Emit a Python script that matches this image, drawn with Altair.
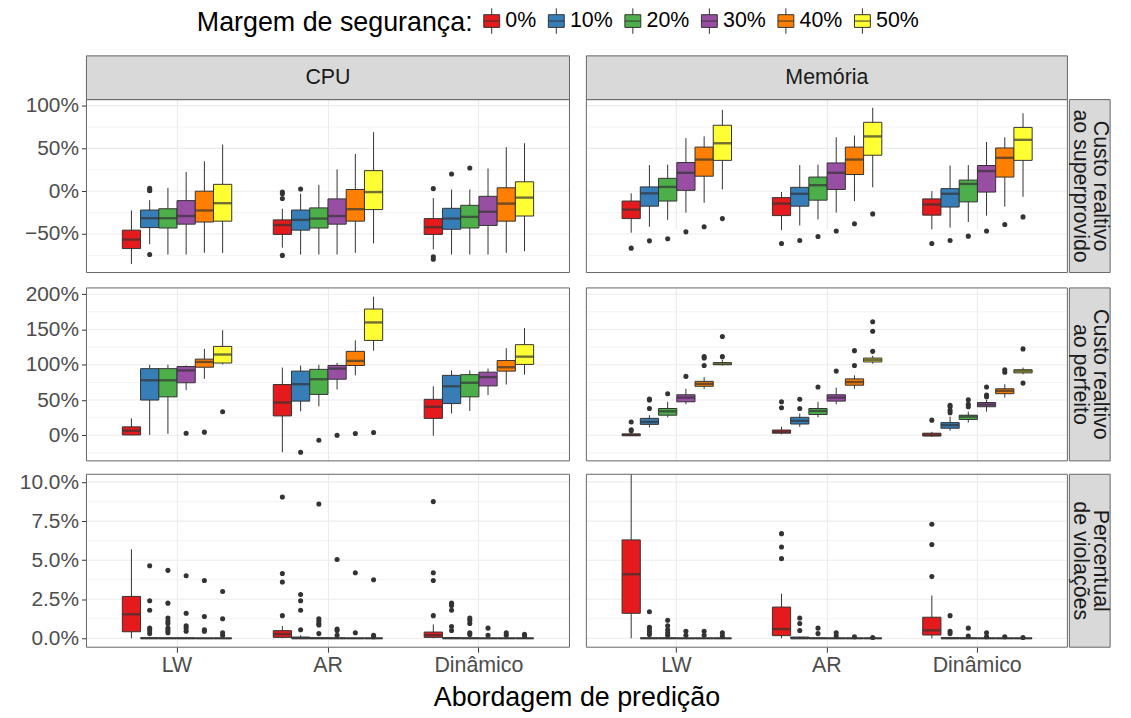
import altair as alt
import pandas as pd

FONT = "Liberation Sans"

approaches = ["LW", "AR", "Dinâmico"]
margins = ["0%", "10%", "20%", "30%", "40%", "50%"]
palette = ["#E41A1C", "#377EB8", "#4DAF4A", "#984EA3", "#FF7F00", "#FFFF33"]
resources = ["CPU", "Memória"]

# Box summaries: each list holds LW (0%..50%), then AR (0%..50%), then Dinâmico (0%..50%)

# --- Custo relativo ao superprovido ---
sup_cpu = dict(
    lo=[-85, -62, -74, -74, -72, -72, -66, -74, -74, -74, -72, -61, -68, -74, -74, -74, -72, -70],
    q1=[-67, -42.5, -43, -38.5, -36, -35, -50.5, -45.5, -43, -38.5, -35, -21.5, -50.5, -44.5, -43, -40, -35, -29],
    med=[-56.5, -31.5, -31.5, -29, -22.5, -14, -39.5, -33.5, -32, -29, -21, -1, -42, -32, -30, -24, -14.5, -7.5],
    q3=[-45.5, -22, -20.5, -11, 0, 8, -33.5, -22, -19.5, -9, 2, 24, -32, -20, -16.5, -6, 4, 11],
    hi=[-22.5, -10.5, 4, 22.5, 35, 54.5, -20.5, -3, 7.5, 25.5, 43.5, 69, -8, 2, 2, 26.5, 51.5, 56],
)
sup_cpu_out = [[], [3.5, 1.5, 0.5, -74], [], [], [], [],
               [-1, -3, -8.5, -75], [2.5], [], [], [], [],
               [3, -76.5, -79.5], [20], [27], [], [], []]

sup_mem = dict(
    lo=[-48.5, -41.5, -33.5, -25, -13.5, 2, -45.5, -40, -33, -25, -11.5, 4.5, -44.5, -42.5, -36, -28.5, -18, -6.5],
    q1=[-32, -17.5, -11.5, 1, 17.5, 36, -28.5, -17.5, -10.5, 2, 19.5, 42, -28, -18.5, -12.5, -1, 16.5, 36],
    med=[-21.5, -2.5, 5, 21.5, 37, 56, -14.5, -3, 7, 21.5, 37, 64, -15.5, -3, 8.5, 23.5, 39, 60],
    q3=[-11.5, 5, 15, 33.5, 51.5, 77, -7.5, 4.5, 16.5, 33, 51.5, 80.5, -9, 3, 13, 30, 50.5, 74.5],
    hi=[-2.5, 30.5, 31, 62, 64, 95, -1, 30.5, 31, 63, 65, 97.5, 0, 30, 30.5, 57.5, 63, 91],
)
sup_mem_out = [[-66.5], [-58], [-55.5], [-47.5], [-41.5], [-32],
               [-61], [-57.5], [-53], [-46.5], [-38], [-26.5],
               [-61], [-57.5], [-52.5], [-46.5], [-39], [-30]]

# --- Custo relativo ao perfeito ---
perf_cpu = dict(
    lo=[0, 0.5, 2, 64, 80, 100.5, -24, 34, 41, 65, 85, 120, -0.5, 31, 34.5, 57, 72, 86],
    q1=[0.5, 50, 54.5, 74.5, 96.5, 102.5, 27.5, 48.5, 58, 79.5, 99, 134.5, 24, 45, 54.5, 70, 91, 100.5],
    med=[6.5, 78, 78, 92, 104, 114.5, 46.5, 72.5, 79.5, 94.5, 105.5, 160, 40.5, 69.5, 74.5, 82.5, 96.5, 111.5],
    q3=[12, 94.5, 94.5, 97.5, 108, 126, 72, 91, 93.5, 99, 119, 179, 51, 85, 86, 89.5, 106, 128.5],
    hi=[24, 100, 100, 99, 122.5, 149, 96, 99, 100, 102.5, 134.5, 196.5, 69.5, 92, 92, 94.5, 123.5, 152],
)
perf_cpu_out = [[], [], [], [3], [4.5], [33.5],
                [], [-24], [-7], [0], [2.5], [4],
                [], [], [], [], [], []]

perf_mem = dict(
    lo=[-0.5, 11, 25.5, 44, 66, 99, 1.5, 12, 25.5, 44, 66, 101.5, -2, 6.5, 18, 33.5, 53.5, 86.5],
    q1=[-0.5, 15.5, 28.5, 47.5, 69.5, 100, 3, 16, 29.5, 48.5, 71, 104, -1, 10, 22.5, 40.5, 59, 88.5],
    med=[0.5, 19, 34, 53.5, 73, 101.5, 5, 20.5, 34.5, 53.5, 75.5, 107, 0.5, 14.5, 26.5, 43.5, 63, 91],
    q3=[2, 24, 38, 57.5, 76.5, 103, 7.5, 25.5, 38, 57.5, 80, 109.5, 3, 18, 28.5, 46.5, 66, 93],
    hi=[5, 28.5, 47.5, 66, 82.5, 107, 12, 31, 47.5, 67.5, 85, 113, 5, 26.5, 33.5, 50, 72.5, 96],
)
perf_mem_out = [[6.5, 8, 19], [38, 50, 51.5], [59], [83.5], [99, 109.5, 111.5], [111.5, 140],
                [39, 47.5], [38, 51], [68.5], [91], [99, 120], [119, 147.5, 161],
                [21.5], [32, 35.5, 40.5, 42.5], [40.5, 44, 50.5], [54.5, 57, 68.5], [89.5, 93], [74, 122.5]]

# --- Percentual de violações ---
viol_cpu = dict(
    lo=[0, 0, 0, 0, 0, 0, 0, 0, 0, 0, 0, 0, 0, 0, 0, 0, 0, 0],
    q1=[0.42, 0, 0, 0, 0, 0, 0.06, 0, 0, 0, 0, 0, 0.06, 0, 0, 0, 0, 0],
    med=[1.54, 0, 0, 0, 0, 0, 0.27, 0, 0, 0, 0, 0, 0.2, 0, 0, 0, 0, 0],
    q3=[2.68, 0.03, 0.02, 0.02, 0, 0, 0.49, 0.08, 0.03, 0.02, 0, 0, 0.4, 0.04, 0.02, 0, 0, 0],
    hi=[5.7, 0.06, 0.04, 0.04, 0, 0, 0.78, 0.2, 0.06, 0.04, 0, 0, 0.89, 0.08, 0.04, 0, 0, 0],
)
viol_cpu_out = [[], [0.3, 0.5, 0.65, 1.8, 2.4, 4.65], [0.35, 0.5, 0.65, 0.95, 1.1, 1.3, 2.25, 4.35],
                [0.45, 0.65, 0.8, 1.6, 4.0], [0.45, 0.55, 1.4, 3.7], [0.2, 0.35, 1.25, 3.0],
                [1.45, 3.6, 4.15, 9.05], [0.55, 1.8, 2.4, 2.8], [0.3, 0.85, 0.95, 1.1, 1.25, 8.6],
                [0.2, 0.5, 0.6, 5.05], [0.35, 4.2], [0.1, 0.2, 3.75],
                [1.45, 3.7, 4.2, 8.75], [0.5, 0.75, 1.8, 2.1, 2.25], [0.25, 0.35, 0.95, 1.15, 1.3],
                [0.2, 0.65], [0.2, 0.35], [0.15, 0.25]]

viol_mem = dict(
    lo=[0, 0, 0, 0, 0, 0, 0, 0, 0, 0, 0, 0, 0, 0, 0, 0, 0, 0],
    q1=[1.6, 0, 0, 0, 0, 0, 0.17, 0, 0, 0, 0, 0, 0.21, 0, 0, 0, 0, 0],
    med=[4.1, 0, 0, 0, 0, 0, 0.59, 0, 0, 0, 0, 0, 0.51, 0, 0, 0, 0, 0],
    q3=[6.3, 0.02, 0.02, 0, 0, 0, 2.0, 0.08, 0.02, 0, 0, 0, 1.35, 0.03, 0.02, 0, 0, 0],
    hi=[10.5, 0.05, 0.04, 0, 0, 0, 2.85, 0.1, 0.04, 0, 0, 0, 2.74, 0.06, 0.04, 0, 0, 0],
)
viol_mem_out = [[], [0.25, 0.4, 0.55, 0.7, 1.7], [0.2, 0.35, 0.55, 0.8, 1.15], [0.2, 0.45], [0.2, 0.45], [0.15, 0.35],
                [5.1, 5.85, 6.7], [0.5, 0.95, 1.3], [0.3, 0.65], [0.15, 0.35], [0.1], [0.05],
                [3.95, 6.0, 7.3], [0.3, 0.45, 1.45], [0.15, 0.65], [0.1, 0.35], [0.1], [0.05]]

row_labels = [["Custo realtivo", "ao superprovido"], ["Custo realtivo", "ao perfeito"], ["Percentual", "de violações"]]
row_domains = [[-95, 107], [-36.2, 208.9], [-0.57, 10.5]]
row_majors = [[-50, 0, 50, 100], [0, 50, 100, 150, 200], [0, 2.5, 5, 7.5, 10]]
row_minors = [[-75, -25, 25, 75], [-25, 25, 75, 125, 175], [1.25, 3.75, 6.25, 8.75]]
row_data = [
    {"CPU": (sup_cpu, sup_cpu_out), "Memória": (sup_mem, sup_mem_out)},
    {"CPU": (perf_cpu, perf_cpu_out), "Memória": (perf_mem, perf_mem_out)},
    {"CPU": (viol_cpu, viol_cpu_out), "Memória": (viol_mem, viol_mem_out)},
]

GRID = "#ebebeb"
DARK = "#333333"
BORDER = "#666666"
STRIP_FILL = "#d9d9d9"
COL_W = {"CPU": 486, "Memória": 484}
ROW_H = 174
STRIP_H = 44
STRIP_W = 41
STRIP_GAP = 2

box_glyph = "M-1,-0.8H1V0.8H-1Z M-1,0H1 M0,-0.8V-1.6 M0,0.8V1.6"

legend = alt.Legend(
    title="Margem de segurança:", orient="none", legendX=111, legendY=-46,
    direction="horizontal", titleOrient="left", titleFont=FONT, titleFontSize=27,
    titleFontWeight="normal", titleColor="black", titlePadding=8, titleBaseline="middle",
    titleLimit=600, labelFont=FONT, labelFontSize=21.5, labelColor="black", labelOffset=3,
    columnPadding=9, symbolType=box_glyph, symbolSize=256,
    symbolStrokeColor=DARK, symbolStrokeWidth=1, padding=0,
)


def frames(stats, outs):
    boxes, points = [], []
    for i in range(18):
        a, m = approaches[i // 6], margins[i % 6]
        boxes.append(dict(approach=a, margin=m, lo=stats["lo"][i], q1=stats["q1"][i],
                          med=stats["med"][i], q3=stats["q3"][i], hi=stats["hi"][i]))
        for v in outs[i]:
            points.append(dict(approach=a, margin=m, value=v))
    return pd.DataFrame(boxes), pd.DataFrame(points, columns=["approach", "margin", "value"])


def one(**kw):
    return pd.DataFrame({k: [v] for k, v in kw.items()})


def panel(r, res):
    left = res == "CPU"
    bottom = r == 2
    top_h = STRIP_H if r == 0 else 0
    W = COL_W[res]
    full_w = W if left else W + STRIP_GAP + STRIP_W
    H = ROW_H + top_h
    stats, outs = row_data[r][res]
    box_df, pt_df = frames(stats, outs)

    if r == 2:
        lab = "format(datum.value, '.1f') + '%'"
    else:
        lab = "format(datum.value, 'd') + '%'"

    xaxis = alt.Axis(
        title=None, grid=True, gridColor=GRID, gridWidth=1.1, bandPosition=0.5, domain=False,
        labels=bottom, ticks=bottom, tickColor=DARK, tickSize=5, tickWidth=1,
        labelFont=FONT, labelFontSize=21.5, labelColor="#4d4d4d", labelPadding=2, labelAngle=0,
    )
    if left:
        yaxis = alt.Axis(
            title=None, values=row_majors[r], grid=False, domain=False,
            ticks=True, tickSize=5, tickWidth=1, tickColor=DARK,
            labelExpr=lab, labelOverlap=False,
            labelFont=FONT, labelFontSize=21, labelColor="#4d4d4d", labelPadding=3,
        )
    else:
        yaxis = None

    xs = alt.Scale(domain=approaches, range=[0, W], paddingInner=0.275, paddingOuter=0.2375)
    xo = alt.Scale(domain=margins, paddingInner=0, paddingOuter=0)
    ys = alt.Scale(domain=row_domains[r], range=[H, top_h], nice=False, zero=False)
    x = alt.X("approach:N", scale=xs, axis=xaxis, title=None)
    xoff = alt.XOffset("margin:N", scale=xo)

    # horizontal grid (major and minor) across the panel only
    g_major = alt.Chart(pd.DataFrame({"v": row_majors[r]})).mark_rule(
        color=GRID, strokeWidth=1.1).encode(
        y=alt.Y("v:Q", scale=ys, axis=yaxis, title=None), x=alt.value(0), x2=alt.value(W))
    g_minor = alt.Chart(pd.DataFrame({"v": row_minors[r]})).mark_rule(
        color=GRID, strokeWidth=0.6).encode(y="v:Q", x=alt.value(0), x2=alt.value(W))

    base = alt.Chart(box_df).encode(x=x, xOffset=xoff)
    whisk = base.mark_rule(color=DARK, strokeWidth=1).encode(y="lo:Q", y2="hi:Q")
    boxes = base.mark_bar(stroke=DARK, strokeWidth=1).encode(
        y="q1:Q", y2="q3:Q",
        fill=alt.Fill("margin:N", scale=alt.Scale(domain=margins, range=palette), legend=legend))
    meds = base.mark_tick(color=DARK, thickness=2.4, size=18).encode(y="med:Q")
    pts = alt.Chart(pt_df).mark_circle(color=DARK, opacity=1, size=26).encode(
        x=x, xOffset=xoff, y="value:Q")

    frame = alt.Chart(one(k=0)).mark_rect(fill="transparent", stroke=BORDER, strokeWidth=1).encode(
        x=alt.value(0), x2=alt.value(W), y=alt.value(top_h), y2=alt.value(H))
    layers = [g_major, g_minor, whisk, boxes, meds, pts, frame]

    if r == 0:
        layers.append(alt.Chart(one(k=0)).mark_rect(fill=STRIP_FILL, stroke=BORDER, strokeWidth=1).encode(
            x=alt.value(0), x2=alt.value(W), y=alt.value(0), y2=alt.value(STRIP_H)))
        layers.append(alt.Chart(one(label=res)).mark_text(
            font=FONT, fontSize=21.5, color="#1a1a1a").encode(
            text="label:N", x=alt.value(W / 2), y=alt.value(STRIP_H / 2)))
    if not left:
        sx0 = W + STRIP_GAP
        layers.append(alt.Chart(one(k=0)).mark_rect(fill=STRIP_FILL, stroke=BORDER, strokeWidth=1).encode(
            x=alt.value(sx0), x2=alt.value(full_w), y=alt.value(top_h), y2=alt.value(H)))
        lines = row_labels[r]
        layers.append(alt.Chart(one(label=lines[0])).mark_text(
            font=FONT, fontSize=21.5, color="#1a1a1a", angle=90).encode(
            text="label:N", x=alt.value(sx0 + STRIP_W / 2 + 10), y=alt.value(top_h + ROW_H / 2)))
        layers.append(alt.Chart(one(label=lines[1])).mark_text(
            font=FONT, fontSize=21.5, color="#1a1a1a", angle=90).encode(
            text="label:N", x=alt.value(sx0 + STRIP_W / 2 - 10), y=alt.value(top_h + ROW_H / 2)))

    return alt.layer(*layers).properties(width=full_w, height=H)


rows = [alt.hconcat(panel(r, "CPU"), panel(r, "Memória"), spacing=13) for r in range(3)]

chart = alt.vconcat(*rows, spacing=8.5).properties(
    title=alt.TitleParams("Abordagem de predição", orient="bottom", anchor="middle",
                          dx=12, font=FONT, fontSize=27, fontWeight="normal", color="black",
                          offset=9),
    padding={"left": 18, "top": 8, "right": 20, "bottom": 2},
    background="white",
).configure_view(stroke="transparent")

chart.save("out.html", embed_options={"renderer": "svg", "actions": False})
